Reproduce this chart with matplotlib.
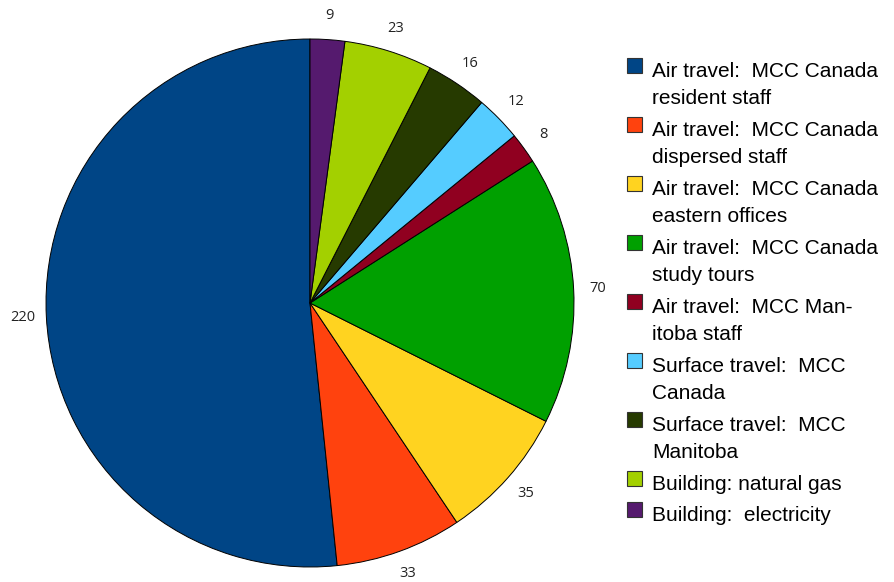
import matplotlib
matplotlib.use('Agg')
import matplotlib.pyplot as plt
from matplotlib.patches import Rectangle

# data
categories = ['Air travel:  MCC Canada\nresident staff',
              'Air travel:  MCC Canada\ndispersed staff',
              'Air travel:  MCC Canada\neastern offices',
              'Air travel:  MCC Canada\nstudy tours',
              'Air travel:  MCC Man-\nitoba staff',
              'Surface travel:  MCC\nCanada',
              'Surface travel:  MCC\nManitoba',
              'Building: natural gas',
              'Building:  electricity']
values = [220, 33, 35, 70, 8, 12, 16, 23, 9]
colors = ['#004586', '#ff420e', '#ffd320', '#00a000', '#900020',
          '#55ccff', '#263a00', '#a3d000', '#551a6e']

W, H = 894, 582
fig = plt.figure(figsize=(W / 100, H / 100), dpi=100)

# pie centre (310, 303), radius 264 px
cx, cy, r = 310, 303, 264
ax = fig.add_axes([(cx - r) / W, 1 - (cy + r) / H, 2 * r / W, 2 * r / H])
wedges, texts = ax.pie(values, labels=[str(v) for v in values], colors=colors,
                       startangle=90, counterclock=True, labeldistance=1.09,
                       wedgeprops=dict(edgecolor='black', linewidth=0.7),
                       textprops=dict(fontsize=10.5, family='Open Sans', color='#222222'))
for t in texts:
    t.set_horizontalalignment('center')
    t.set_verticalalignment('center')
ax.set_xlim(-1, 1)
ax.set_ylim(-1, 1)
ax.set_aspect('equal')
ax.axis('off')

# legend, drawn by hand so the box sits next to the first line
base = 77
for lab, col in zip(categories, colors):
    lines = lab.split('\n')
    fig.patches.append(Rectangle((627 / W, 1 - (base - 4) / H), 15 / W, 15 / H,
                                 transform=fig.transFigure, facecolor=col,
                                 edgecolor='#333333', linewidth=0.8))
    for k, ln in enumerate(lines):
        fig.text(652 / W, 1 - (base + 27 * k) / H, ln, fontsize=15,
                 family='Liberation Sans', va='baseline', ha='left')
    base += 27 * len(lines) + 5 if len(lines) > 1 else 31

fig.savefig('out.png', dpi=100)
